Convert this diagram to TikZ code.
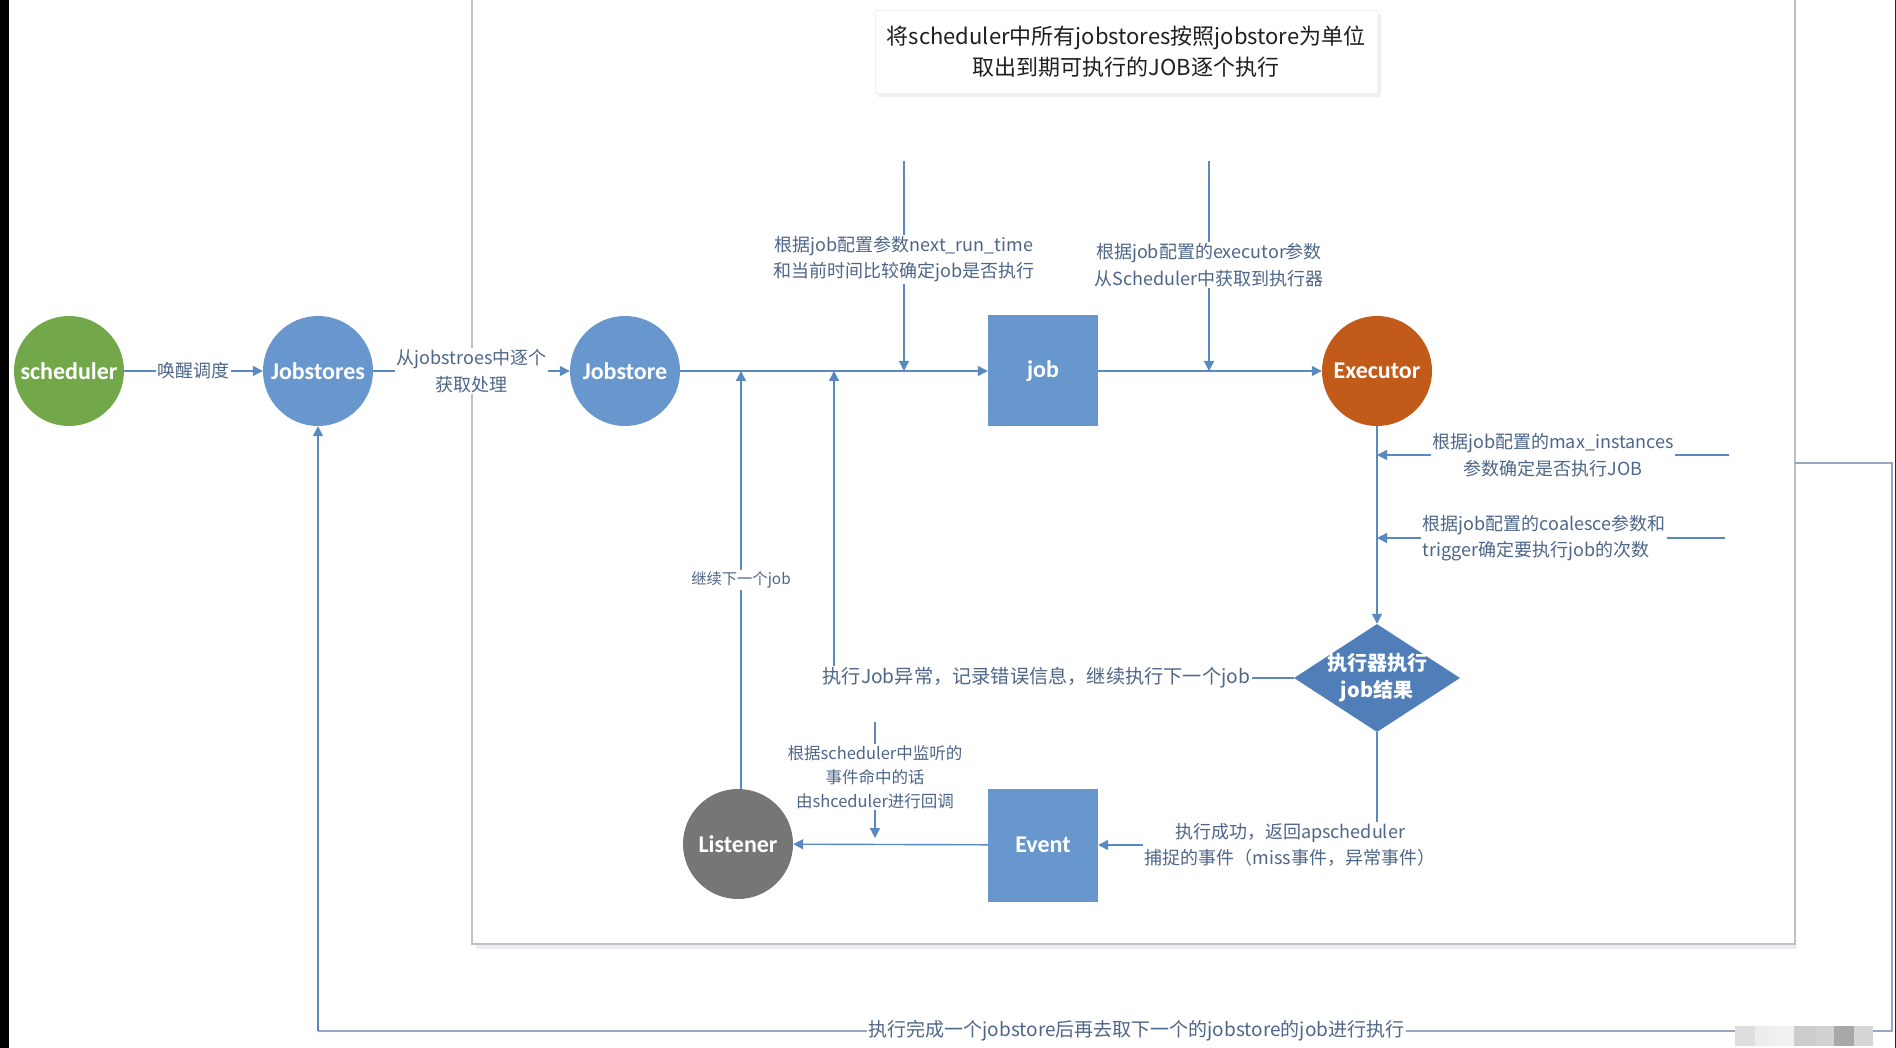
\documentclass[tikz,border=0pt]{standalone}
\usepackage{fontspec}
\setmainfont{Noto Sans CJK SC}
\newfontfamily\calb{Carlito}
\usetikzlibrary{arrows.meta,shapes.geometric}
\definecolor{cgreen}{RGB}{114,168,74}
\definecolor{cblue}{RGB}{104,151,206}
\definecolor{corange}{RGB}{194,90,26}
\definecolor{cdiam}{RGB}{80,126,184}
\definecolor{cgray}{RGB}{118,118,118}
\definecolor{lineblue}{RGB}{90,136,192}
\definecolor{lbltext}{RGB}{78,102,136}
\definecolor{framegray}{RGB}{188,193,200}
\definecolor{loopcol}{RGB}{150,166,188}
\tikzset{
  nodetxt/.style={text=white, font=\calb\bfseries\fontsize{24}{28}\selectfont},
  circ/.style={circle, minimum size=110pt, inner sep=0pt, nodetxt},
  sq/.style={rectangle, minimum width=110pt, minimum height=111pt, inner sep=0pt, fill=cblue, nodetxt},
  lbl/.style={font=\fontsize{18}{26.5}\selectfont, text=lbltext, fill=white, inner sep=1.5pt, align=center},
  arr/.style={draw=lineblue, line width=1.4pt, -{Triangle[length=10pt,width=10pt]}},
  plain/.style={draw=lineblue, line width=1.4pt},
  loopline/.style={draw=loopcol, line width=1.4pt}
}
\begin{document}
\begin{tikzpicture}[x=1pt,y=-1pt]
\useasboundingbox (0,0) rectangle (1896,1048);
\fill[white] (0,0) rectangle (1896,1048);
\fill[black] (0,0) rectangle (9,1048);
\fill[black!85] (1895,0) rectangle (1896,1048);

% inner frame with shadow
\fill[black!7] (476,944) rectangle (1797,949);
\draw[framegray, line width=1.2pt] (472,-2) -- (472,944) -- (1795,944) -- (1795,-2);

% title box
\fill[black!6] (878,14) rectangle (1381,97);
\node[draw=black!6, fill=white, minimum width=502pt, minimum height=83pt, inner sep=0pt,
      align=center, text=black!88, font=\fontsize{22}{31}\selectfont] (title) at (1126,52)
  {将scheduler中所有jobstores按照jobstore为单位\\取出到期可执行的JOB逐个执行};

% main nodes
\node[circ, fill=cgreen] (sched) at (69,371) {scheduler};
\node[circ, fill=cblue] (jobs) at (318,371) {Jobstores};
\node[circ, fill=cblue] (jstore) at (625,371) {Jobstore};
\node[sq] (job) at (1043,371) {job};
\node[circ, fill=corange] (exec) at (1377,371) {Executor};
\node[diamond, fill=cdiam, minimum width=166pt, minimum height=108pt, inner sep=0pt,
      text=white, font=\bfseries\fontsize{20}{27}\selectfont] (diam) at (1377,678)
  {\smash{\raisebox{-6pt}{\begin{tabular}{@{}c@{}}执行器执行\\job结果\end{tabular}}}};
\node[sq, minimum height=113pt] (event) at (1043,845) {Event};
\node[circ, fill=cgray] (listen) at (738,844) {Listener};

% helper coordinates
\coordinate (t1) at (904,161);
\coordinate (m1) at (904,371);
\coordinate (t2) at (1209,161);
\coordinate (m2) at (1209,371);
\coordinate (r1) at (1729,455);
\coordinate (r1e) at (1377,455);
\coordinate (r2) at (1725,538);
\coordinate (r2e) at (1377,538);
\coordinate (up1) at (834,371);
\coordinate (up2) at (741,371);
\coordinate (t3) at (875,722);
\coordinate (m3) at (875,838);
\coordinate (o1) at (1795,463);
\coordinate (o2) at (1892,463);
\coordinate (o3) at (1892,1031);
\coordinate (o4) at (318,1031);

% connectors
\draw[arr] (sched) -- node[lbl] {唤醒调度} (jobs);
\draw[arr] (jobs) -- node[lbl] {从jobstroes中逐个\\获取处理} (jstore);
\draw[arr] (jstore) -- (job);
\draw[arr] (t1) -- node[lbl, pos=0.467] {根据job配置参数next\_run\_time\\和当前时间比较确定job是否执行} (m1);
\draw[arr] (job) -- (exec);
\draw[arr] (t2) -- node[lbl, pos=0.495] {根据job配置的executor参数\\从Scheduler中获取到执行器} (m2);
\draw[arr] (exec) -- (diam);
\draw[arr] (r1) -- node[lbl, pos=0.5] {根据job配置的max\_instances\\参数确定是否执行JOB} (r1e);
\draw[arr] (r2) -- node[lbl, pos=0.52, align=left] {根据job配置的coalesce参数和\\trigger确定要执行job的次数} (r2e);
\draw[arr] (diam.west) -| node[lbl, pos=0.28, font=\fontsize{19.2}{26}\selectfont] {执行Job异常，记录错误信息，继续执行下一个job} (up1);
\draw[arr] (diam.south) |- node[lbl, pos=0.656] {执行成功，返回apscheduler\\捕捉的事件（miss事件，异常事件）} (event.east);
\draw[arr] (event) -- (listen);
\draw[arr] (t3) -- node[lbl, pos=0.475, font=\fontsize{16.5}{24}\selectfont] {根据scheduler中监听的\\事件命中的话\\由shceduler进行回调} (m3);
\draw[arr] (listen.north -| up2) -- node[lbl, pos=0.5, font=\fontsize{15.3}{20}\selectfont] {继续下一个job} (up2);

% outer loop
\draw[loopline] (o1) -- (o2) -- (o3) -- node[lbl, pos=0.48, font=\fontsize{19}{24}\selectfont] {执行完成一个jobstore后再去取下一个的jobstore的job进行执行} (o4);
\draw[loopline, -{Triangle[length=10pt,width=10pt]}, draw=lineblue] (o4) -- (jobs.south);

% blurred watermark blocks
\fill[black!13] (1735,1026) rectangle (1755,1046);
\fill[black!7] (1755,1026) rectangle (1775,1046);
\fill[black!6] (1775,1026) rectangle (1794,1046);
\fill[black!20] (1794,1026) rectangle (1815,1046);
\fill[black!18] (1815,1026) rectangle (1834,1046);
\fill[black!34] (1834,1026) rectangle (1854,1046);
\fill[black!16] (1854,1026) rectangle (1873,1046);
\end{tikzpicture}
\end{document}
